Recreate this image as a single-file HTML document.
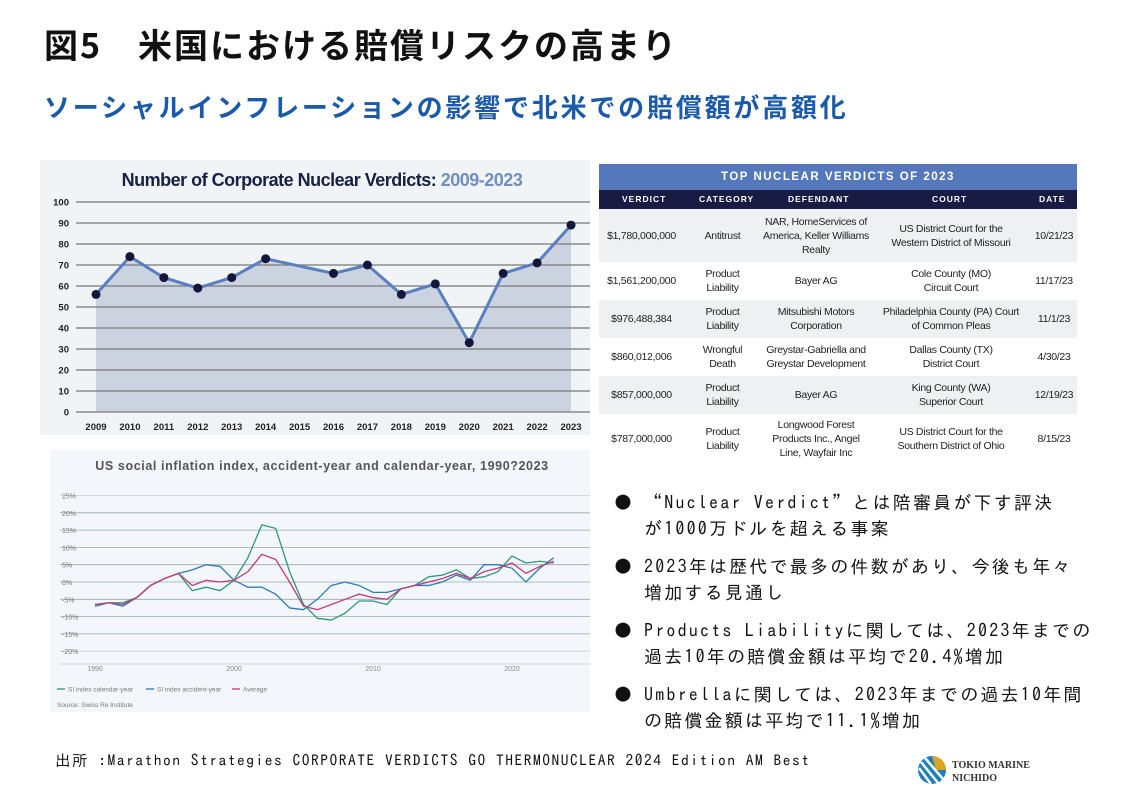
<!DOCTYPE html>
<html><head><meta charset="utf-8"><style>
body{margin:0;width:1123px;height:794px;background:#fff;overflow:hidden;position:relative;font-family:"Liberation Sans","Noto Sans CJK JP",sans-serif}
.a{position:absolute;white-space:nowrap}
.jp{font-family:"IPAGothic","Noto Sans CJK JP",monospace}
table{border-collapse:collapse;font-family:"Liberation Sans",sans-serif;font-size:10.5px;color:#222;letter-spacing:-0.3px}
td{text-align:center;line-height:14px;padding:0}
</style></head><body>
<div class="a" style="left:44px;top:23px;font-size:34px;font-weight:bold;font-family:'Noto Sans CJK JP',sans-serif;color:#111;line-height:42px;letter-spacing:2px">図5　米国における賠償リスクの高まり</div>
<div class="a" style="left:44px;top:90px;font-size:26px;font-weight:bold;font-family:'Noto Sans CJK JP',sans-serif;color:#1a5aa8;line-height:34px;letter-spacing:2.8px">ソーシャルインフレーションの影響で北米での賠償額が高額化</div>

<svg class="a" style="left:0;top:0" width="1123" height="794" id="sv">
<rect x="40" y="160" width="550" height="275" fill="#f1f4f6"/>
<text x="322" y="186" text-anchor="middle" font-size="18" font-weight="bold" fill="#1a1f45" font-family="Liberation Sans Narrow,Liberation Sans" letter-spacing="-0.5">Number of Corporate Nuclear Verdicts: <tspan fill="#6f8fc0">2009-2023</tspan></text>
<g id="g1"></g>
<rect x="50" y="450" width="540" height="262" fill="#f3f6fa"/>
<text x="322" y="470" text-anchor="middle" font-size="12.5" font-weight="bold" fill="#555" letter-spacing="0.6">US social inflation index, accident-year and calendar-year, 1990?2023</text>
<g id="g2"></g>
</svg>

<div class="a" style="left:599px;top:164px;width:478px;height:26px;background:#5578bd;color:#fff;font-size:11.5px;font-weight:bold;letter-spacing:1.5px;text-align:center;line-height:27px">TOP NUCLEAR VERDICTS OF 2023</div>
<div class="a" style="left:599px;top:190px;width:478px;height:19px;background:#181c45"></div>
<div class="a" style="left:599px;top:190px;width:478px;font-size:8.5px;font-weight:bold;color:#fff;letter-spacing:1px;line-height:19px">
<span class="a" style="left:23px">VERDICT</span><span class="a" style="left:100px">CATEGORY</span><span class="a" style="left:189px">DEFENDANT</span><span class="a" style="left:333px">COURT</span><span class="a" style="left:440px">DATE</span></div>
<table class="a" style="left:599px;top:209px;width:478px">
<colgroup><col style="width:85px"><col style="width:77px"><col style="width:110px"><col style="width:160px"><col></colgroup>
<tr style="height:53px;background:#eff0f2"><td>$1,780,000,000</td><td>Antitrust</td><td>NAR, HomeServices of<br>America, Keller Williams<br>Realty</td><td>US District Court for the<br>Western District of Missouri</td><td>10/21/23</td></tr>
<tr style="height:38px"><td>$1,561,200,000</td><td>Product<br>Liability</td><td>Bayer AG</td><td>Cole County (MO)<br>Circuit Court</td><td>11/17/23</td></tr>
<tr style="height:38px;background:#eff0f2"><td>$976,488,384</td><td>Product<br>Liability</td><td>Mitsubishi Motors<br>Corporation</td><td>Philadelphia County (PA) Court<br>of Common Pleas</td><td>11/1/23</td></tr>
<tr style="height:38px"><td>$860,012,006</td><td>Wrongful<br>Death</td><td>Greystar-Gabriella and<br>Greystar Development</td><td>Dallas County (TX)<br>District Court</td><td>4/30/23</td></tr>
<tr style="height:38px;background:#eff0f2"><td>$857,000,000</td><td>Product<br>Liability</td><td>Bayer AG</td><td>King County (WA)<br>Superior Court</td><td>12/19/23</td></tr>
<tr style="height:50px"><td>$787,000,000</td><td>Product<br>Liability</td><td>Longwood Forest<br>Products Inc., Angel<br>Line, Wayfair Inc</td><td>US District Court for the<br>Southern District of Ohio</td><td>8/15/23</td></tr>
</table>

<div class="a jp" style="left:614px;top:490px;font-size:18px;line-height:26px;color:#111;letter-spacing:2.2px">
<div style="position:relative;padding-left:30px;margin-bottom:12px"><span style="position:absolute;left:0">●</span>“Nuclear Verdict”とは陪審員が下す評決<br>が1000万ドルを超える事案</div>
<div style="position:relative;padding-left:30px;margin-bottom:12px"><span style="position:absolute;left:0">●</span>2023年は歴代で最多の件数があり、今後も年々<br>増加する見通し</div>
<div style="position:relative;padding-left:30px;margin-bottom:12px"><span style="position:absolute;left:0">●</span>Products Liabilityに関しては、2023年までの<br>過去10年の賠償金額は平均で20.4%増加</div>
<div style="position:relative;padding-left:30px"><span style="position:absolute;left:0">●</span>Umbrellaに関しては、2023年までの過去10年間<br>の賠償金額は平均で11.1%増加</div>
</div>
<div class="a jp" style="left:55px;top:750px;font-size:15.5px;line-height:20px;color:#111;letter-spacing:1.5px">出所 :Marathon Strategies  CORPORATE VERDICTS GO THERMONUCLEAR 2024 Edition AM Best</div>

<svg class="a" style="left:916px;top:753px" width="130" height="34">
<circle cx="16" cy="17" r="14" fill="#1d7fc0"/>
<path d="M16 3 A14 14 0 0 1 30 17 L20 17 Z" fill="#d9a520"/>
<path d="M5 9 L22 30 M9 5 L27 26 M3 15 L15 31" stroke="#fff" stroke-width="2.5"/>
<text x="36" y="15" font-size="10" font-family="Liberation Serif" font-weight="bold" fill="#333">TOKIO MARINE</text>
<text x="36" y="28" font-size="10" font-family="Liberation Serif" font-weight="bold" fill="#333">NICHIDO</text>
</svg>

<script>
var NS="http://www.w3.org/2000/svg";
function el(p,t,a,txt){var e=document.createElementNS(NS,t);for(var k in a)e.setAttribute(k,a[k]);if(txt!=null)e.textContent=txt;p.appendChild(e);return e;}
var g1=document.getElementById('g1');
var v1=[56,74,64,59,64,73,69.5,66,70,56,61,33,66,71,89];
function X1(i){return 96+33.93*i}function Y1(v){return 412-2.1*v}
var pts=v1.map(function(v,i){return X1(i)+','+Y1(v)});
el(g1,'polygon',{points:X1(0)+',412 '+pts.join(' ')+' '+X1(14)+',412',fill:'#ccd3e0'});
for(var t=0;t<=100;t+=10){el(g1,'line',{x1:76,x2:590,y1:Y1(t),y2:Y1(t),stroke:'#777','stroke-width':1.2});
el(g1,'text',{x:69,y:Y1(t)+3.5,'text-anchor':'end','font-size':9.5,'font-weight':'bold',fill:'#222'},t);}
el(g1,'polyline',{points:pts.join(' '),fill:'none',stroke:'#5a7fc0','stroke-width':3});
v1.forEach(function(v,i){if(i!=6)el(g1,'circle',{cx:X1(i),cy:Y1(v),r:4.5,fill:'#14163a'});
el(g1,'text',{x:X1(i),y:430,'text-anchor':'middle','font-size':9.5,'font-weight':'bold',fill:'#222'},2009+i);});
var g2=document.getElementById('g2');
function X2(i){return 95+13.9*i}function Y2(v){return 582-3.46*v}
for(var t=25;t>=-20;t-=5){el(g2,'line',{x1:60,x2:590,y1:Y2(t),y2:Y2(t),stroke:(t==-20||t==25)?'#ccc':'#9aa',"stroke-width":0.8});
el(g2,'text',{x:62,y:Y2(t)+3,'font-size':7,fill:'#777'},t+'%');}
el(g2,'line',{x1:60,x2:590,y1:664,y2:664,stroke:'#ccc','stroke-width':0.8});
[[0,'1990'],[10,'2000'],[20,'2010'],[30,'2020']].forEach(function(a){el(g2,'text',{x:X2(a[0]),y:671,'text-anchor':'middle','font-size':7,fill:'#888'},a[1]);});
var green=[-6.5,-6,-6,-4.5,-1,1,2.5,-2.5,-1.5,-2.5,0.5,7,16.5,15.5,3,-6.5,-10.5,-11,-9,-5.5,-5.5,-6.5,-2,-1,1.5,2,3.5,1,1.5,3,7.5,5.5,6,5.5];
var blue=[-7,-6,-7,-4.5,-1,1,2.5,3.5,5,4.5,0.5,-1.5,-1.5,-3.5,-7.5,-8,-5,-1,0,-1,-3,-3,-2,-1,-1,0,2,0.5,5,5,4,0,4,7];
var pink=[-6.5,-6,-6.5,-4.5,-1,1,2.5,-1,0.5,0,0.5,3,8,6.5,0,-7,-8,-6.5,-5,-3.5,-4.5,-5,-2,-1,0,1,2.5,1,3,4,5.5,2.5,4.5,6];
[[green,'#2e9a7a'],[blue,'#2d7db3'],[pink,'#c23a7a']].forEach(function(s){el(g2,'polyline',{points:s[0].map(function(v,i){return X2(i)+','+Y2(v)}).join(' '),fill:'none',stroke:s[1],'stroke-width':1.3});});
var lg=[['#2e9a7a','SI index calendar-year',57],['#2d7db3','SI index accident-year',146],['#c23a7a','Average',232]];
lg.forEach(function(l){el(g2,'line',{x1:l[2],x2:l[2]+8,y1:689,y2:689,stroke:l[0],'stroke-width':1.3});el(g2,'text',{x:l[2]+11,y:691.5,'font-size':6.5,fill:'#777'},l[1]);});
el(g2,'text',{x:57,y:707,'font-size':6.5,fill:'#777'},'Source: Swiss Re Institute');
</script>
</body></html>
